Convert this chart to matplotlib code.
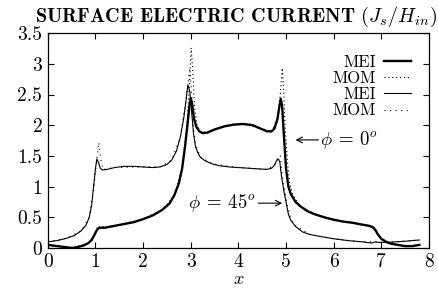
import matplotlib
matplotlib.use("Agg")
import matplotlib.pyplot as plt

plt.rcParams['mathtext.fontset'] = 'cm'
plt.rcParams['font.family'] = ['cmr10', 'DejaVu Serif']
plt.rcParams['axes.unicode_minus'] = False
plt.rcParams['axes.formatter.use_mathtext'] = True

# MEI, phi = 0 (thick)
mei0_x = [0, 0.2, 0.4, 0.5, 0.6, 0.75, 0.85, 0.92, 0.97, 1.02, 1.06, 1.1, 1.2, 1.4, 1.6, 1.8,
          2.0, 2.2, 2.4, 2.55, 2.65, 2.75, 2.82, 2.88, 2.93, 2.97, 3.0, 3.03, 3.07, 3.12, 3.18,
          3.25, 3.35, 3.5, 3.7, 3.9, 4.1, 4.3, 4.45, 4.6, 4.7, 4.76, 4.82, 4.86, 4.89, 4.92,
          4.95, 5.0, 5.05, 5.1, 5.2, 5.3, 5.45, 5.6, 5.8, 6.0, 6.2, 6.4, 6.6, 6.75, 6.82, 6.87,
          6.93, 7.0, 7.1, 7.2, 7.35, 7.5, 7.65, 7.8]
mei0_y = [0.05, 0.03, 0.01, 0.0, 0.01, 0.04, 0.08, 0.13, 0.2, 0.28, 0.32, 0.33, 0.33, 0.36, 0.39, 0.42,
          0.47, 0.53, 0.62, 0.72, 0.85, 1.05, 1.3, 1.65, 2.0, 2.3, 2.44, 2.35, 2.1, 1.97, 1.9,
          1.87, 1.88, 1.93, 1.98, 2.01, 2.02, 2.0, 1.95, 1.9, 1.9, 1.95, 2.1, 2.3, 2.43, 2.3,
          1.9, 1.3, 1.0, 0.88, 0.75, 0.68, 0.6, 0.55, 0.5, 0.46, 0.43, 0.41, 0.38, 0.36, 0.34, 0.3,
          0.22, 0.15, 0.1, 0.07, 0.05, 0.03, 0.03, 0.05]

# MOM, phi = 0
mom0_x = [0, 0.5, 0.85, 0.97, 1.05, 1.1, 1.4, 2.0, 2.4, 2.65, 2.82, 2.93, 2.98, 3.01, 3.04, 3.08,
          3.13, 3.2, 3.35, 3.7, 4.1, 4.45, 4.7, 4.82, 4.88, 4.92, 4.95, 4.98, 5.03, 5.08, 5.15,
          5.3, 5.6, 6.0, 6.4, 6.75, 6.87, 6.93, 7.0, 7.2, 7.5, 7.8]
mom0_y = [0.05, 0.0, 0.08, 0.2, 0.36, 0.34, 0.36, 0.47, 0.62, 0.85, 1.3, 2.1, 2.8, 3.26, 2.9, 2.3,
          2.0, 1.9, 1.88, 1.98, 2.02, 1.95, 1.9, 2.1, 2.5, 2.93, 2.6, 2.0, 1.4, 1.05, 0.85,
          0.68, 0.55, 0.46, 0.41, 0.36, 0.3, 0.24, 0.15, 0.07, 0.03, 0.05]

# MEI, phi = 45 (thin)
mei45_x = [0, 0.2, 0.4, 0.55, 0.7, 0.8, 0.87, 0.92, 0.96, 1.0, 1.03, 1.06, 1.1, 1.15, 1.25, 1.4,
           1.6, 1.8, 2.0, 2.2, 2.35, 2.5, 2.6, 2.7, 2.78, 2.85, 2.9, 2.94, 2.98, 3.02, 3.06, 3.1,
           3.15, 3.2, 3.3, 3.45, 3.6, 3.8, 4.0, 4.2, 4.4, 4.6, 4.7, 4.76, 4.8, 4.84, 4.87, 4.9,
           4.95, 5.0, 5.05, 5.1, 5.2, 5.35, 5.5, 5.7, 6.0, 6.3, 6.6, 6.8, 6.87, 6.95, 7.1, 7.3,
           7.5, 7.65, 7.8]
mei45_y = [0.1, 0.12, 0.16, 0.2, 0.28, 0.37, 0.5, 0.7, 1.0, 1.3, 1.45, 1.4, 1.3, 1.27, 1.28, 1.31,
           1.33, 1.33, 1.32, 1.31, 1.32, 1.36, 1.43, 1.58, 1.8, 2.1, 2.4, 2.66, 2.55, 2.2, 1.85, 1.65,
           1.55, 1.48, 1.42, 1.37, 1.34, 1.32, 1.31, 1.3, 1.29, 1.28, 1.3, 1.35, 1.42, 1.45, 1.4, 1.2,
           0.95, 0.75, 0.55, 0.45, 0.35, 0.26, 0.22, 0.19, 0.15, 0.12, 0.1, 0.08, 0.1, 0.09, 0.09, 0.1,
           0.11, 0.12, 0.13]

# MOM, phi = 45
mom45_x = [0, 0.4, 0.7, 0.87, 0.96, 1.02, 1.07, 1.11, 1.16, 1.4, 2.0, 2.35, 2.6, 2.78, 2.9, 2.95,
           2.98, 3.01, 3.05, 3.1, 3.2, 3.45, 4.0, 4.6, 4.76, 4.84, 4.88, 4.92, 5.0, 5.1, 5.2, 5.5,
           6.0, 6.6, 6.87, 7.1, 7.5, 7.8]
mom45_y = [0.1, 0.16, 0.28, 0.5, 0.95, 1.4, 1.72, 1.45, 1.28, 1.31, 1.32, 1.32, 1.43, 1.8, 2.4, 2.75,
           2.9, 2.6, 2.0, 1.7, 1.48, 1.37, 1.31, 1.28, 1.35, 1.5, 1.5, 1.2, 0.8, 0.47, 0.36, 0.22,
           0.15, 0.1, 0.1, 0.09, 0.11, 0.13]

xticks = [0, 1, 2, 3, 4, 5, 6, 7, 8]
yticks = [0, 0.5, 1, 1.5, 2, 2.5, 3, 3.5]
ytick_labels = ['0', '0.5', '1', '1.5', '2', '2.5', '3', '3.5']

fig = plt.figure(figsize=(4.39, 2.88), dpi=100)
ax = fig.add_axes([0.109, 0.139, 0.868, 0.746])

ax.plot(mei0_x, mei0_y, color='black', lw=1.7, label='MEI')
ax.plot(mom0_x, mom0_y, color='black', lw=0.8, ls=(0, (1, 2.5)), label='MOM')
ax.plot(mei45_x, mei45_y, color='black', lw=0.8, label='MEI')
ax.plot(mom45_x, mom45_y, color='black', lw=0.8, ls=(0, (1, 4)), label='MOM')

ax.set_xlim(0, 8)
ax.set_ylim(0, 3.5)
ax.set_xticks(xticks)
ax.set_xticklabels([str(t) for t in xticks])
ax.set_yticks(yticks)
ax.set_yticklabels(ytick_labels)
ax.tick_params(direction='in', top=True, right=True, length=4, width=0.8, labelsize=14, pad=4)
for s in ax.spines.values():
    s.set_linewidth(0.9)

ax.set_xlabel('$x$', fontsize=13, labelpad=0)

fig.text(0.538, 0.94, r'SURFACE ELECTRIC CURRENT $(J_s/H_{in})$', ha='center', va='center',
         fontsize=14.5, family=['cmb10', 'DejaVu Serif'])

leg = ax.legend(loc='upper right', bbox_to_anchor=(0.952, 0.9), frameon=False, markerfirst=False,
                fontsize=12, handlelength=1.6, handletextpad=0.5, labelspacing=0.05,
                borderaxespad=0, borderpad=0)
for t in leg.get_texts():
    t.set_ha('right')

ax.annotate('', xy=(5.2, 1.76), xytext=(5.68, 1.76),
            arrowprops=dict(arrowstyle='->', lw=0.8, color='black', shrinkA=0, shrinkB=0))
ax.text(5.72, 1.76, r'$\phi\:=\:0^o$', fontsize=13.5, va='center', ha='left')

ax.annotate('', xy=(4.92, 0.73), xytext=(4.42, 0.73),
            arrowprops=dict(arrowstyle='->', lw=0.8, color='black', shrinkA=0, shrinkB=0))
ax.text(4.36, 0.73, r'$\phi\:=\:45^o$', fontsize=13.5, va='center', ha='right')

fig.savefig('out.png', dpi=100)
